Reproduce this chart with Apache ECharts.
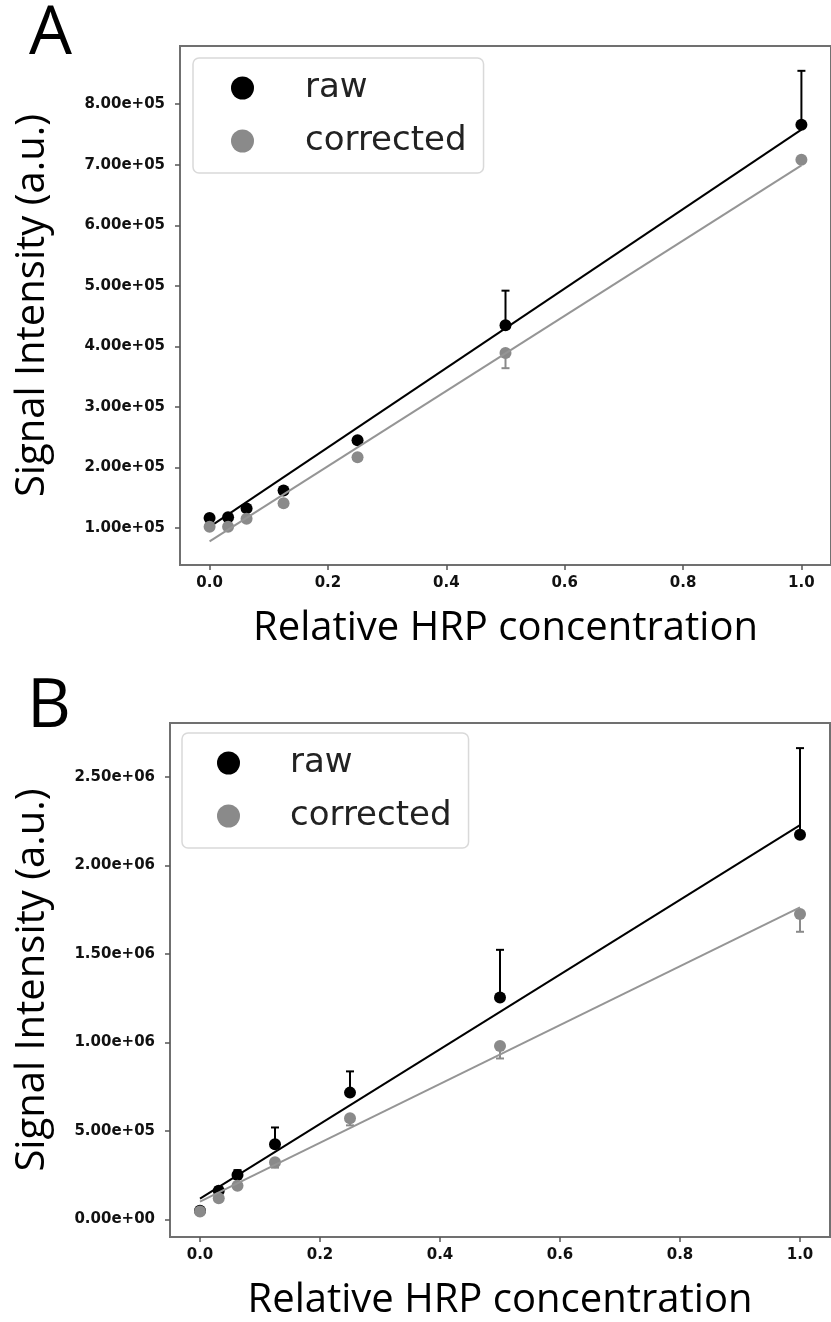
<!DOCTYPE html>
<html>
<head>
<meta charset="utf-8">
<script src="https://cdn.jsdelivr.net/npm/echarts@6.0.0/dist/echarts.min.js"></script>
<style>
  html, body { margin: 0; padding: 0; background: #fff; }
  #chart { width: 831px; height: 1322px; }
</style>
</head>
<body>
<div id="chart"></div>
<script>
// relative HRP dilution series (same for both panels)
var concentrations = [0, 0.03125, 0.0625, 0.125, 0.25, 0.5, 1.0];

// panel A
var rawA = [1.165e5, 1.18e5, 1.325e5, 1.62e5, 2.45e5, 4.35e5, 7.66e5];
var rawErrUpA = [0, 0, 0, 0, 0, 0.57e5, 0.89e5];
var corrA = [1.02e5, 1.02e5, 1.155e5, 1.41e5, 2.17e5, 3.89e5, 7.08e5];
var corrErrDownA = [0, 0, 0, 0, 0, 0.25e5, 0];
var fitRawA = [1.02e5, 7.58e5];   // fitted line at x = 0 and x = 1
var fitCorrA = [0.78e5, 6.99e5];
var yTicksA = [1e5, 2e5, 3e5, 4e5, 5e5, 6e5, 7e5, 8e5];

// panel B
var rawB = [0.048e6, 0.162e6, 0.251e6, 0.424e6, 0.716e6, 1.253e6, 2.173e6];
var rawErrUpB = [0, 0.02e6, 0.027e6, 0.095e6, 0.12e6, 0.27e6, 0.49e6];
var corrB = [0.044e6, 0.119e6, 0.19e6, 0.322e6, 0.571e6, 0.979e6, 1.725e6];
var corrErrDownB = [0, 0, 0, 0.03e6, 0.04e6, 0.07e6, 0.10e6];
var fitRawB = [0.117e6, 2.228e6];
var fitCorrB = [0.10e6, 1.763e6];
var yTicksB = [0, 5e5, 1e6, 1.5e6, 2e6, 2.5e6];

var xTicks = [0, 0.2, 0.4, 0.6, 0.8, 1.0];
var fitX = [0, 1];

var BLACK = '#000000';
var GREY = '#8a8a8a';
var GREY_LINE = '#959595';

function pairs(xs, ys) {
  return xs.map(function (x, i) { return [x, ys[i]]; });
}

// [x, low, high] for one-sided error bars
function errUp(xs, ys, errs) {
  var out = [];
  xs.forEach(function (x, i) { if (errs[i] > 0) out.push([x, ys[i], ys[i] + errs[i]]); });
  return out;
}
function errDown(xs, ys, errs) {
  var out = [];
  xs.forEach(function (x, i) { if (errs[i] > 0) out.push([x, ys[i] - errs[i], ys[i]]); });
  return out;
}

function errorBar(color) {
  return function (params, api) {
    var x = api.value(0);
    var top = api.coord([x, api.value(2)]);
    var bot = api.coord([x, api.value(1)]);
    var w = 4;
    var st = { stroke: color, lineWidth: 2 };
    return {
      type: 'group',
      children: [
        { type: 'line', shape: { x1: top[0], y1: top[1], x2: bot[0], y2: bot[1] }, style: st },
        { type: 'line', shape: { x1: top[0] - w, y1: top[1], x2: top[0] + w, y2: top[1] }, style: st },
        { type: 'line', shape: { x1: bot[0] - w, y1: bot[1], x2: bot[0] + w, y2: bot[1] }, style: st }
      ]
    };
  };
}

function sciLabel(v) {
  return v.toExponential(2).replace(/e([+-])(\d)$/, 'e$10$2');
}

var tickFont = { fontFamily: 'DejaVu Sans', fontWeight: 'bold', fontSize: 15, color: '#111' };
var titleFont = { fontFamily: 'Open Sans', fontSize: 40, color: '#000' };

function xAxisFor(gridIndex) {
  return {
    type: 'value', gridIndex: gridIndex, min: -0.05, max: 1.05,
    name: 'Relative HRP concentration', nameLocation: 'middle', nameGap: 44,
    nameTextStyle: titleFont,
    axisLine: { show: false, onZero: false },
    splitLine: { show: false },
    axisTick: { show: true, customValues: xTicks, length: 5, lineStyle: { color: '#555', width: 1.5 } },
    axisLabel: Object.assign({ customValues: xTicks, margin: 11, formatter: function (v) { return v.toFixed(1); } }, tickFont)
  };
}

function yAxisFor(gridIndex, min, max, ticks, gap) {
  return {
    type: 'value', gridIndex: gridIndex, min: min, max: max,
    name: 'Signal Intensity (a.u.)', nameLocation: 'middle', nameGap: gap,
    nameTextStyle: titleFont,
    axisLine: { show: false, onZero: false },
    splitLine: { show: false },
    axisTick: { show: true, customValues: ticks, length: 5, lineStyle: { color: '#555', width: 1.5 } },
    axisLabel: Object.assign({ customValues: ticks, margin: 15, formatter: sciLabel }, tickFont)
  };
}

function panelSeries(idx, raw, rawErr, corr, corrErr, fitRaw, fitCorr) {
  return [
    {
      name: 'raw-err', type: 'custom', xAxisIndex: idx, yAxisIndex: idx, z: 2,
      renderItem: errorBar(BLACK), data: errUp(concentrations, raw, rawErr)
    },
    {
      name: 'raw', type: 'scatter', xAxisIndex: idx, yAxisIndex: idx, z: 3,
      symbol: 'circle', symbolSize: 12, itemStyle: { color: BLACK, opacity: 1 },
      data: pairs(concentrations, raw)
    },
    {
      name: 'raw-fit', type: 'line', xAxisIndex: idx, yAxisIndex: idx, z: 4,
      showSymbol: false, lineStyle: { color: BLACK, width: 2 },
      data: pairs(fitX, fitRaw)
    },
    {
      name: 'corr-err', type: 'custom', xAxisIndex: idx, yAxisIndex: idx, z: 5,
      renderItem: errorBar(GREY), data: errDown(concentrations, corr, corrErr)
    },
    {
      name: 'corrected', type: 'scatter', xAxisIndex: idx, yAxisIndex: idx, z: 6,
      symbol: 'circle', symbolSize: 12, itemStyle: { color: GREY, opacity: 1 },
      data: pairs(concentrations, corr)
    },
    {
      name: 'corr-fit', type: 'line', xAxisIndex: idx, yAxisIndex: idx, z: 7,
      showSymbol: false, lineStyle: { color: GREY_LINE, width: 2 },
      data: pairs(fitX, fitCorr)
    }
  ];
}

function legendAt(left, top, padLeft, textPad) {
  return {
    data: ['raw', 'corrected'], orient: 'vertical', left: left, top: top,
    icon: 'circle', itemWidth: 23, itemHeight: 23, itemGap: 13,
    padding: [10, 17, 12, padLeft],
    backgroundColor: '#fff', borderColor: '#d9d9d9', borderWidth: 1.5, borderRadius: 6,
    selectedMode: false,
    itemStyle: { opacity: 1 },
    textStyle: { fontFamily: 'DejaVu Sans', fontSize: 34, lineHeight: 40, color: '#222', padding: [0, 0, 0, textPad] }
  };
}

var chart = echarts.init(document.getElementById('chart'));

var option = {
  animation: false,
  backgroundColor: '#fff',
  grid: [
    { left: 180, top: 46, width: 658, height: 519, show: true, borderColor: '#707070', borderWidth: 2 },
    { left: 170, top: 723, width: 660, height: 521, show: true, borderColor: '#707070', borderWidth: 2 }
  ],
  xAxis: [xAxisFor(0), xAxisFor(1)],
  yAxis: [
    yAxisFor(0, 0.39e5, 8.96e5, yTicksA, 127),
    yAxisFor(1, -1e5, 2.805e6, yTicksB, 117)
  ],
  legend: [
    legendAt(193, 58, 38, 46),
    legendAt(182, 733, 35, 45)
  ],
  graphic: [
    { type: 'text', left: 29, top: 1, style: { text: 'A', fontFamily: 'Open Sans', fontSize: 68, fill: '#000' } },
    { type: 'text', left: 27, top: 674, style: { text: 'B', fontFamily: 'Open Sans', fontSize: 68, fill: '#000' } }
  ],
  series: [].concat(
    panelSeries(0, rawA, rawErrUpA, corrA, corrErrDownA, fitRawA, fitCorrA),
    panelSeries(1, rawB, rawErrUpB, corrB, corrErrDownB, fitRawB, fitCorrB)
  )
};

chart.setOption(option);
</script>
</body>
</html>
